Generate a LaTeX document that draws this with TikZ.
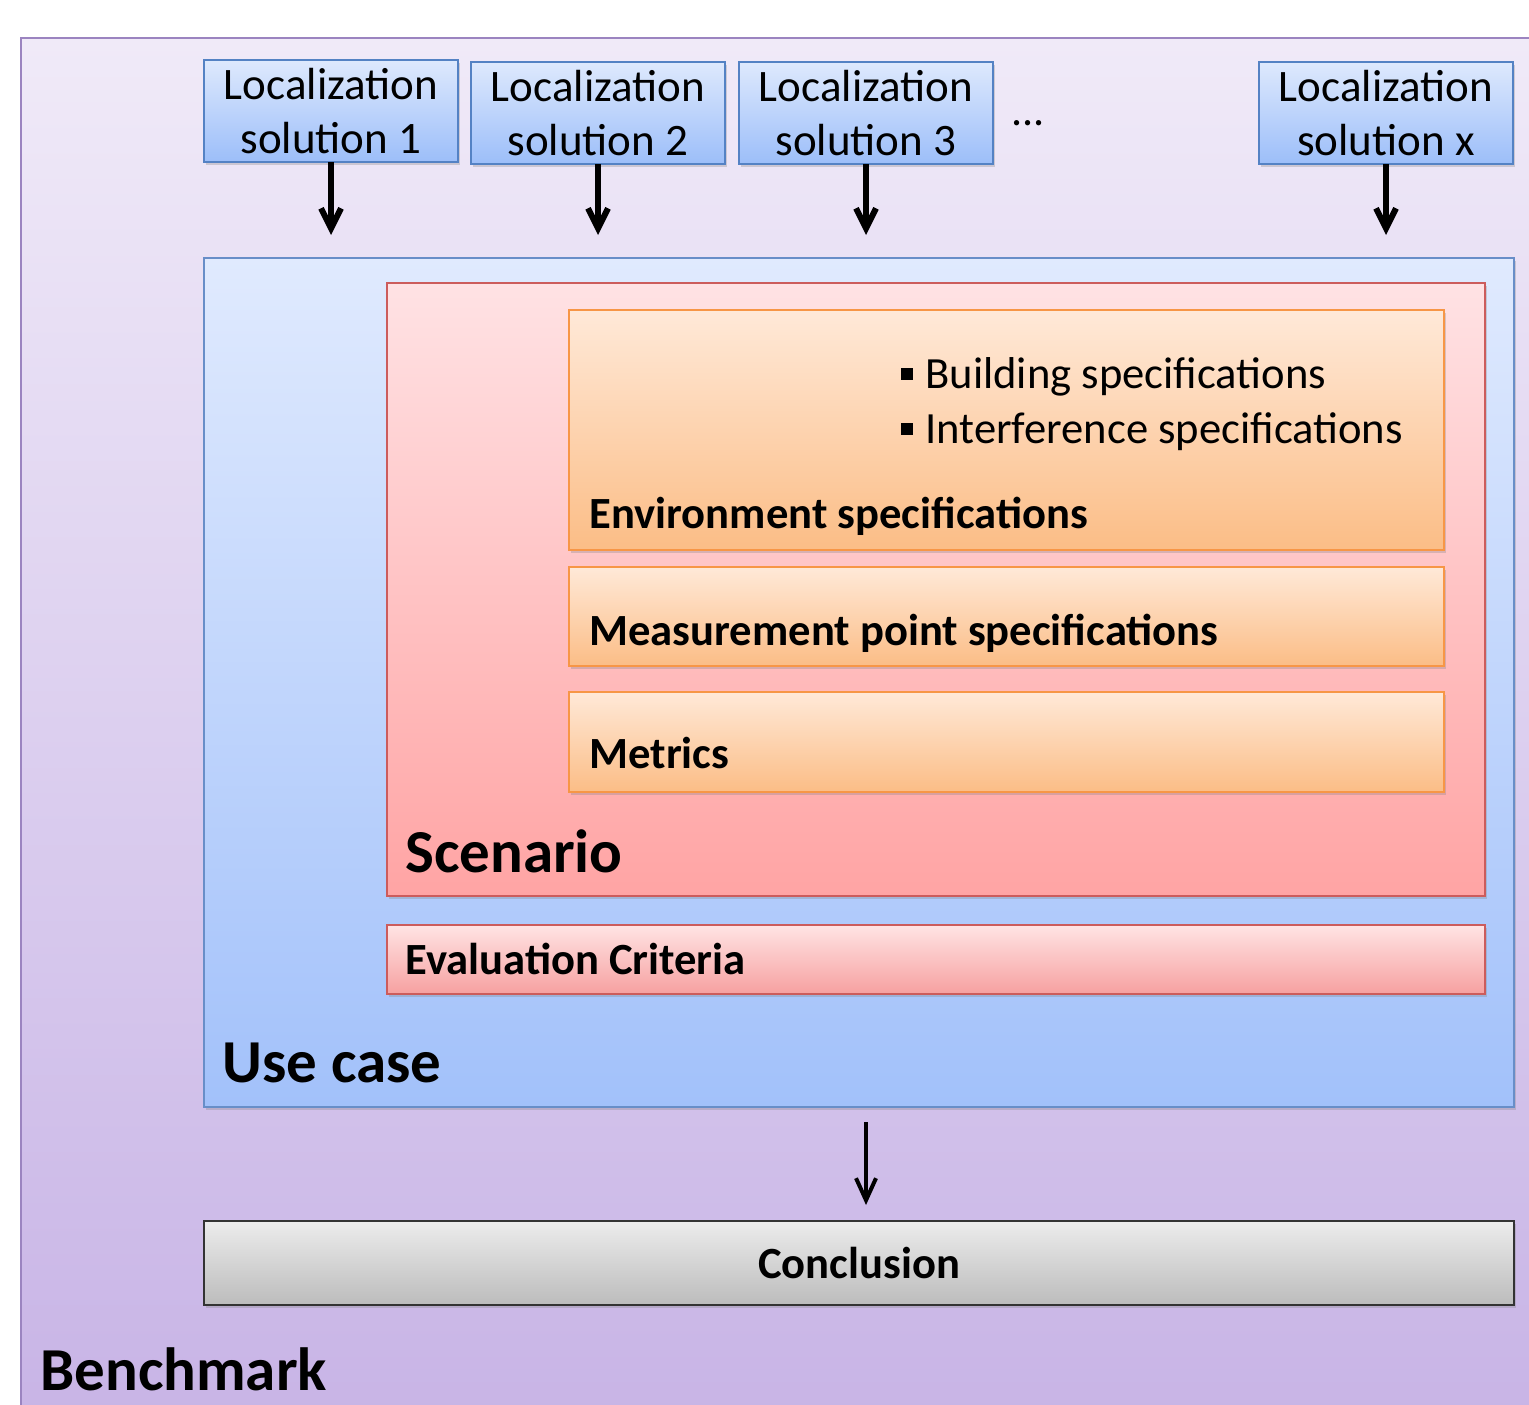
\documentclass[tikz,border=0pt]{standalone}
\usepackage{fontspec}
\setmainfont{Carlito}
\usetikzlibrary{positioning,arrows.meta,shadows}

\definecolor{benchtop}{RGB}{240,234,248}
\definecolor{benchbot}{RGB}{200,180,230}
\definecolor{benchline}{RGB}{155,132,192}
\definecolor{loctop}{RGB}{222,233,253}
\definecolor{locbot}{RGB}{156,190,249}
\definecolor{locline}{RGB}{84,130,196}
\definecolor{usetop}{RGB}{224,234,254}
\definecolor{usebot}{RGB}{162,193,250}
\definecolor{useline}{RGB}{104,142,200}
\definecolor{scentop}{RGB}{255,226,228}
\definecolor{scenbot}{RGB}{255,164,164}
\definecolor{scenline}{RGB}{204,92,92}
\definecolor{spectop}{RGB}{255,233,216}
\definecolor{specbot}{RGB}{251,189,134}
\definecolor{specline}{RGB}{247,150,70}
\definecolor{evaltop}{RGB}{255,228,228}
\definecolor{evalbot}{RGB}{246,160,160}
\definecolor{conctop}{RGB}{236,236,236}
\definecolor{concbot}{RGB}{188,188,188}

\tikzset{
  panel/.style={draw, line width=1pt, inner sep=0pt, outer sep=0pt, anchor=north west},
  softshadow/.style={drop shadow={shadow xshift=1pt, shadow yshift=-1.5pt, opacity=.3}},
  locbox/.style={panel, softshadow, draw=locline, top color=loctop, bottom color=locbot,
    minimum width=127pt, minimum height=51pt, align=center, font=\fontsize{22.5}{27}\selectfont},
  specbox/.style={panel, softshadow, draw=specline, top color=spectop, bottom color=specbot,
    minimum width=437.5pt},
  label/.style={anchor=base west, inner sep=0pt, font=\bfseries\fontsize{22.3}{27}\selectfont},
  biglabel/.style={anchor=base west, inner sep=0pt, font=\bfseries\fontsize{30.5}{36}\selectfont},
  item/.style={anchor=base west, inner sep=0pt, font=\fontsize{22.3}{27}\selectfont},
  feed/.style={-{Straight Barb[length=10pt,width=10pt]}, line width=3pt, shorten >=11.5pt},
  result/.style={-{Straight Barb[length=11pt,width=10pt]}, line width=2pt, shorten <=7.5pt, shorten >=8pt}
}
\newcommand{\sqbul}{\rule[4pt]{6pt}{6pt}\hspace{6pt}}

\begin{document}
\begin{tikzpicture}[x=0.5pt,y=-0.5pt]
\useasboundingbox (0,0) rectangle (1529,1404);
\clip (0,0) rectangle (1529,1404);

% outer frame
\node[panel, draw=benchline, top color=benchtop, bottom color=benchbot,
  minimum width=759.5pt, minimum height=691pt] (bench) at (21,38) {};
\node[biglabel] (benchname) at (40,1390) {Benchmark};

% solutions under test
\node[locbox] (loc1) at (204,60) {Localization\\solution 1};
\node[locbox] (loc2) at (471,62) {Localization\\solution 2};
\node[locbox] (loc3) at (739,62) {Localization\\solution 3};
\node[locbox] (locx) at (1259,62) {Localization\\solution x};
\node[anchor=base west, inner sep=0pt, font=\fontsize{22}{26}\selectfont] (dots) at (1011,125) {...};

% use case
\node[panel, softshadow, draw=useline, top color=usetop, bottom color=usebot,
  minimum width=655pt, minimum height=424.5pt] (usecase) at (204,258) {};
\node[biglabel] (usename) at (222,1082) {Use case};

% scenario
\node[panel, softshadow, draw=scenline, top color=scentop, bottom color=scenbot,
  minimum width=549pt, minimum height=306.5pt] (scenario) at (387,283) {};
\node[biglabel] (scenname) at (405,872) {Scenario};

\node[specbox, minimum height=120pt] (env) at (569,310) {};
\node[item] (building) at (901,388) {\sqbul Building specifications};
\node[item] (interf) at (901,443) {\sqbul Interference specifications};
\node[label] (envname) at (589,528) {Environment specifications};

\node[specbox, minimum height=49.5pt] (meas) at (569,567) {};
\node[label] (measname) at (589,645) {Measurement point specifications};

\node[specbox, minimum height=50pt] (metrics) at (569,692) {};
\node[label] (metname) at (589,768) {Metrics};

% evaluation criteria
\node[panel, softshadow, draw=scenline, top color=evaltop, bottom color=evalbot,
  minimum width=549pt, minimum height=34.5pt] (eval) at (387,925) {};
\node[label] (evalname) at (405,974) {Evaluation Criteria};

% conclusion
\node[panel, softshadow, draw=black!80, top color=conctop, bottom color=concbot,
  minimum width=655pt, minimum height=42pt, font=\bfseries\fontsize{22.3}{27}\selectfont] (concl) at (204,1221) {Conclusion};

% arrows
\draw[feed] (loc1.south) -- (loc1.south |- usecase.north);
\draw[feed] (loc2.south) -- (loc2.south |- usecase.north);
\draw[feed] (loc3.south) -- (loc3.south |- usecase.north);
\draw[feed] (locx.south) -- (locx.south |- usecase.north);
\draw[result] (usecase.south -| loc3.south) -- (concl.north -| loc3.south);
\end{tikzpicture}
\end{document}
